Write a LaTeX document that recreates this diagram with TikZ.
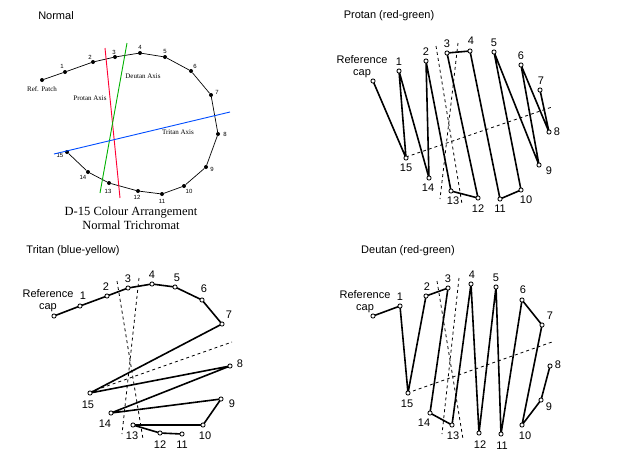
\documentclass[tikz,border=0pt]{standalone}
\usepackage{fontspec}
\setmainfont{Liberation Serif}
\setsansfont{Liberation Sans}
\begin{document}
\begin{tikzpicture}[x=1pt,y=-1pt,
  capdot/.style={circle,draw,fill=white,inner sep=0pt,minimum size=4.2pt,line width=0.8pt},
  dotn/.style={circle,fill=black,inner sep=0pt,minimum size=4pt},
  seq/.style={line width=1.6pt,line join=round},
  nseq/.style={line width=0.7pt},
  axis/.style={dashed,line width=0.8pt},
  num/.style={font=\sffamily\fontsize{11}{11}\selectfont,inner sep=0pt},
  snum/.style={font=\sffamily\fontsize{6}{6}\selectfont,inner sep=0pt},
  ttl/.style={font=\sffamily\fontsize{11}{12}\selectfont,inner sep=0pt},
  slab/.style={font=\fontsize{7}{7}\selectfont,inner sep=0pt}]
\useasboundingbox (0,0) rectangle (623,459);
% ---------- Normal ----------
\node[ttl] at (56,16) {Normal};
\foreach \n/\x/\y in {0/42/80,1/65/72,2/93/62,3/115/57,4/140/53,5/165/57,6/191/71,7/211/95,8/218/134,9/206/167,10/184/186,11/162/194,12/138/191,13/109/183,14/88/172,15/67/152}
  \node[dotn] (n\n) at (\x,\y) {};
\draw[nseq] (n0)--(n1)--(n2)--(n3)--(n4)--(n5)--(n6)--(n7)--(n8)--(n9)--(n10)--(n11)--(n12)--(n13)--(n14)--(n15);
\foreach \n/\x/\y in {1/62/66,2/90/57,3/114/52,4/140/47,5/165/51,6/195/66,7/217/92,8/225/134,9/212/169,10/189/191,11/162/201,12/137/197,13/108/191,14/83/177,15/60/155}
  \node[snum] (nl\n) at (\x,\y) {\n};
\node[slab] (nref) at (42,89) {Ref. Patch};
\coordinate (ra) at (105,48); \coordinate (rb) at (120,198);
\coordinate (ga) at (127,43); \coordinate (gb) at (100,193);
\coordinate (ba) at (54,154); \coordinate (bb) at (230,112);
\draw[red!80!magenta,line width=0.9pt] (ra)--(rb);
\draw[green!70!black,line width=0.9pt] (ga)--(gb);
\draw[blue!70!cyan,line width=0.9pt] (ba)--(bb);
\node[slab] (pax) at (90,98) {Protan Axis};
\node[slab] (dax) at (143,76) {Deutan Axis};
\node[slab] (tax) at (178,132) {Tritan Axis};
\node[font=\fontsize{12.5}{14}\selectfont,align=center,inner sep=0pt] (capt) at (131,218) {D-15 Colour Arrangement\\Normal Trichromat};
% ---------- Protan ----------
\node[ttl] at (389,16) {Protan (red-green)};
\coordinate (pa1) at (436,46); \coordinate (pa2) at (462,204);
\coordinate (pb1) at (458,43); \coordinate (pb2) at (440,199);
\coordinate (pc1) at (406,157); \coordinate (pc2) at (552,107);
\draw[axis] (pa1)--(pa2); \draw[axis] (pb1)--(pb2); \draw[axis] (pc1)--(pc2);
\foreach \n/\x/\y in {0/373/81,1/399/71,2/426/61,3/447/53,4/470/51,5/494/52,6/521/65,7/540/90,8/549/132,9/539/165,10/521/190,11/500/199,12/478/198,13/451/191,14/429/178,15/406/158}
  \coordinate (p\n) at (\x,\y);
\draw[seq] (p0)--(p15)--(p1)--(p14)--(p2)--(p13)--(p12)--(p3)--(p4)--(p11)--(p10)--(p5)--(p9)--(p6)--(p8)--(p7);
\foreach \n in {0,...,15} \node[capdot] at (p\n) {};
\foreach \n/\x/\y in {1/399/62,2/426/52,3/447/44,4/471/41,5/494/43,6/521/56,7/541/81,8/557/132,9/549/171,10/526/200,11/500/209,12/478/209,13/453/201,14/428/188,15/406/168}
  \node[num] at (\x,\y) {\n};
\node[num,align=center] at (362,67) {Reference\\[1pt]cap};
% ---------- Tritan ----------
\node[ttl] at (73,251) {Tritan (blue-yellow)};
\coordinate (ta1) at (117,281); \coordinate (ta2) at (143,439);
\coordinate (tb1) at (139,278); \coordinate (tb2) at (122,434);
\coordinate (tc1) at (90,392); \coordinate (tc2) at (232,342);
\draw[axis] (ta1)--(ta2); \draw[axis] (tb1)--(tb2); \draw[axis] (tc1)--(tc2);
\foreach \n/\x/\y in {0/54/316,1/80/306,2/107/296,3/128/288,4/152/284,5/175/287,6/202/300,7/222/324,8/230/366,9/221/399,10/203/425,11/182/434,12/160/433,13/133/425,14/111/413,15/90/393}
  \coordinate (t\n) at (\x,\y);
\draw[seq] (t0)--(t1)--(t2)--(t3)--(t4)--(t5)--(t6)--(t7)--(t15)--(t8)--(t14)--(t9)--(t10)--(t13)--(t12)--(t11);
\foreach \n in {0,...,15} \node[capdot] at (t\n) {};
\foreach \n/\x/\y in {1/83/296,2/106/287,3/128/279,4/152/275,5/177/278,6/204/289,7/229/315,8/240/364,9/232/404,10/205/436,11/182/445,12/160/445,13/132/436,14/105/424,15/88/405}
  \node[num] at (\x,\y) {\n};
\node[num,align=center] at (48,301) {Reference\\[1pt]cap};
% ---------- Deutan ----------
\node[ttl] at (408,251) {Deutan (red-green)};
\coordinate (da1) at (437,281); \coordinate (da2) at (463,439);
\coordinate (db1) at (459,278); \coordinate (db2) at (442,434);
\coordinate (dc1) at (413,391); \coordinate (dc2) at (552,342);
\draw[axis] (da1)--(da2); \draw[axis] (db1)--(db2); \draw[axis] (dc1)--(dc2);
\foreach \n/\x/\y in {0/373/316,1/400/306,2/426/296,3/448/288,4/471/284,5/496/287,6/522/300,7/542/325,8/550/366,9/541/400,10/522/425,11/501/434,12/479/433,13/452/425,14/430/413,15/408/393}
  \coordinate (d\n) at (\x,\y);
\draw[seq] (d0)--(d1)--(d15)--(d2)--(d3)--(d14)--(d13)--(d4)--(d12)--(d5)--(d11)--(d6)--(d7)--(d10)--(d9)--(d8);
\foreach \n in {0,...,15} \node[capdot] at (d\n) {};
\foreach \n/\x/\y in {1/400/297,2/427/287,3/448/279,4/472/275,5/496/278,6/523/290,7/550/316,8/558/365,9/549/407,10/525/436,11/502/446,12/480/445,13/453/436,14/424/423,15/407/404}
  \node[num] at (\x,\y) {\n};
\node[num,align=center] at (365,302) {Reference\\[1pt]cap};
\end{tikzpicture}
\end{document}
